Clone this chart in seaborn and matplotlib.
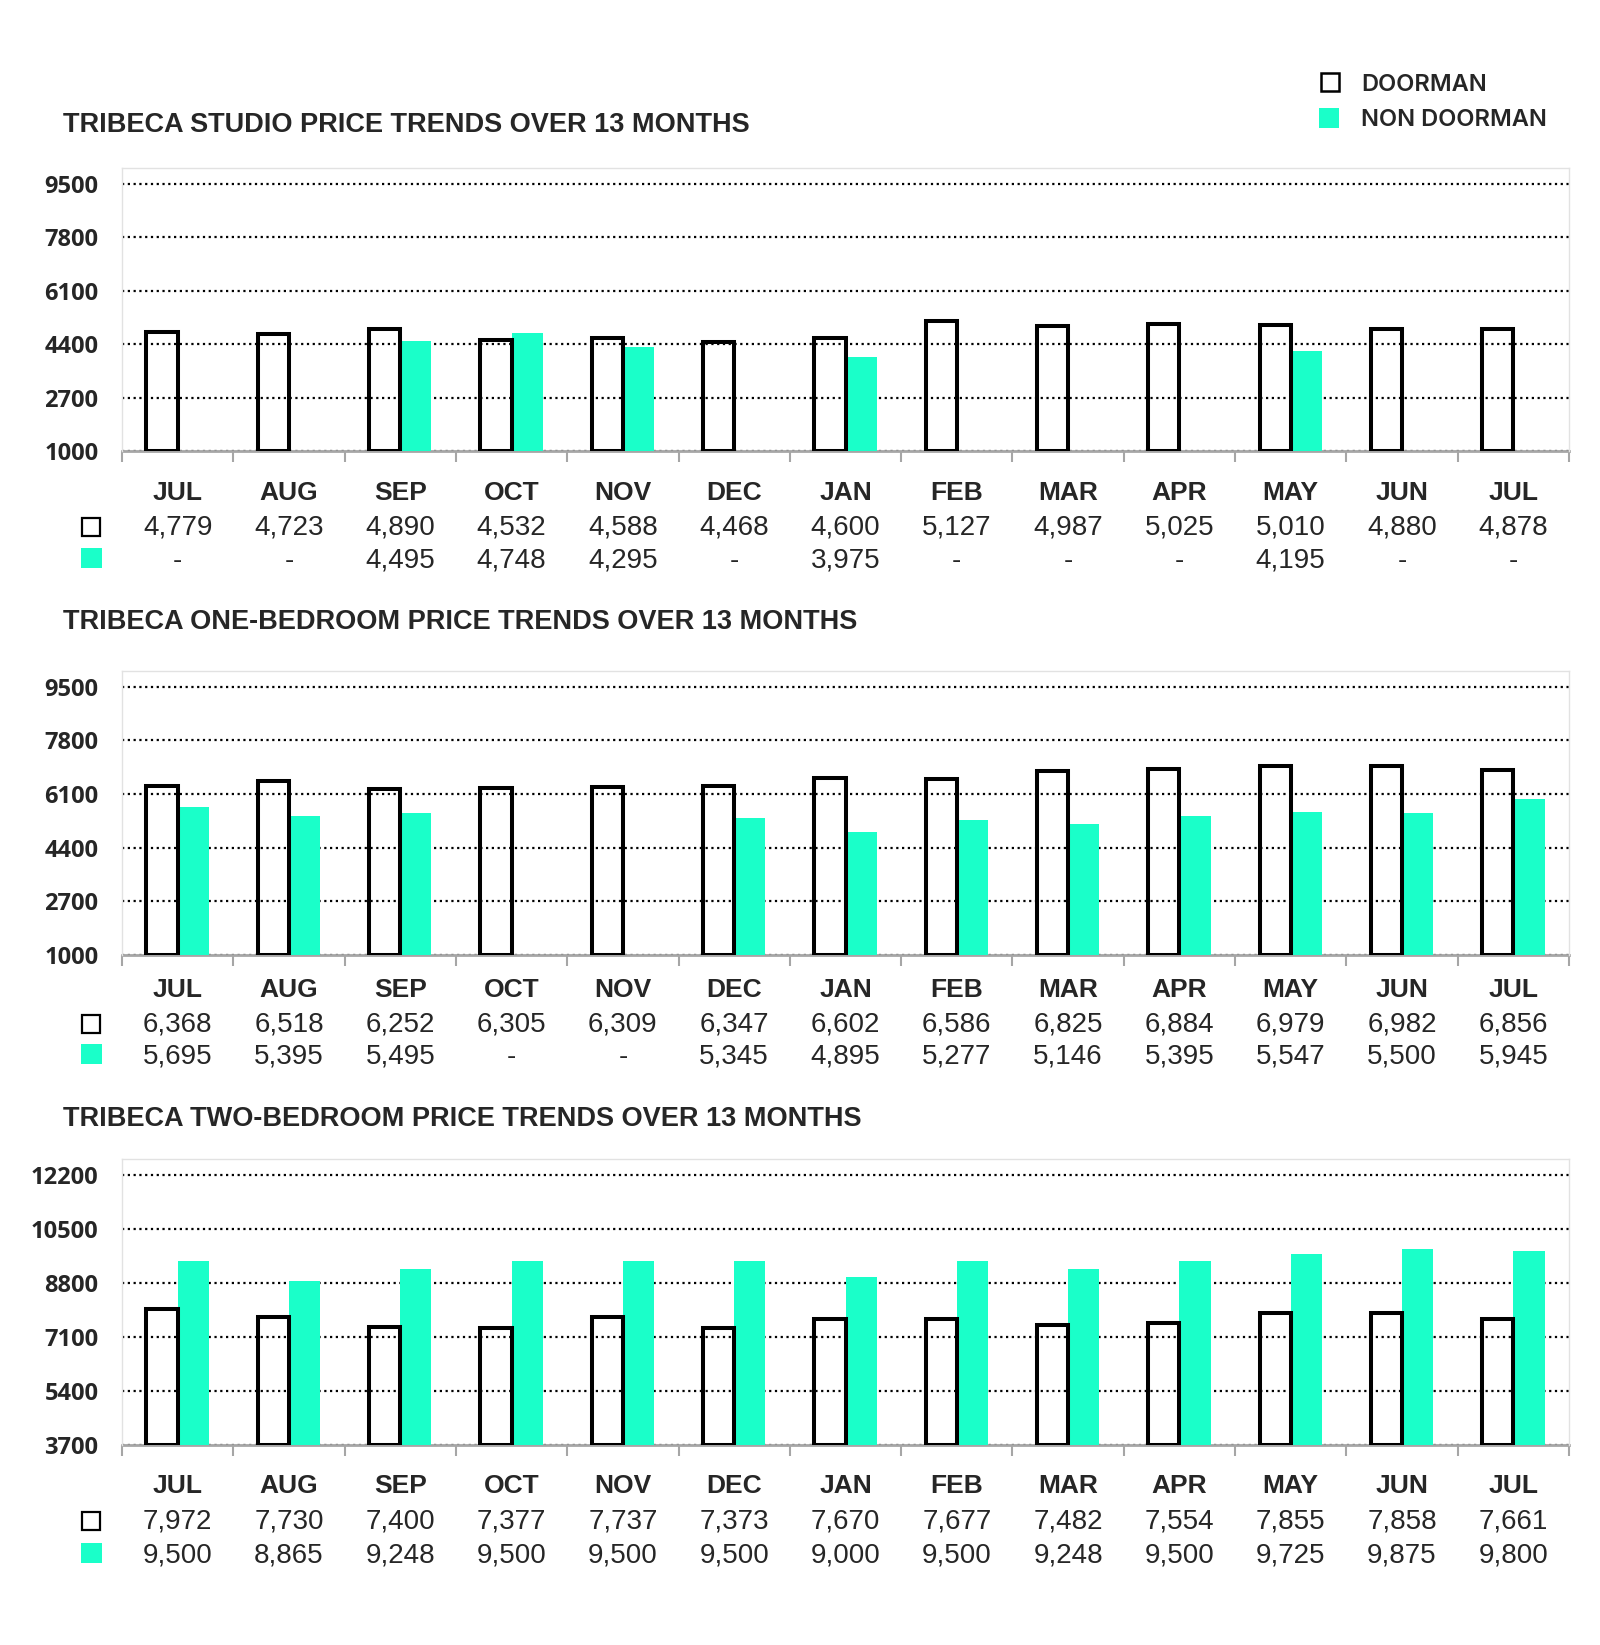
"""
Tribeca rental price trends: doorman vs non doorman, three unit types
"""

import numpy as np
import pandas as pd
import matplotlib
matplotlib.use('Agg')
import matplotlib.pyplot as plt
import seaborn as sns
from matplotlib.patches import Rectangle
from matplotlib.transforms import blended_transform_factory

# ---- data ----
months = ['JUL', 'AUG', 'SEP', 'OCT', 'NOV', 'DEC', 'JAN',
          'FEB', 'MAR', 'APR', 'MAY', 'JUN', 'JUL']

studio_doorman = [4779, 4723, 4890, 4532, 4588, 4468, 4600, 5127, 4987, 5025, 5010, 4880, 4878]
studio_non = [None, None, 4495, 4748, 4295, None, 3975, None, None, None, 4195, None, None]

onebed_doorman = [6368, 6518, 6252, 6305, 6309, 6347, 6602, 6586, 6825, 6884, 6979, 6982, 6856]
onebed_non = [5695, 5395, 5495, None, None, 5345, 4895, 5277, 5146, 5395, 5547, 5500, 5945]

twobed_doorman = [7972, 7730, 7400, 7377, 7737, 7373, 7670, 7677, 7482, 7554, 7855, 7858, 7661]
twobed_non = [9500, 8865, 9248, 9500, 9500, 9500, 9000, 9500, 9248, 9500, 9725, 9875, 9800]

titles = ['TRIBECA STUDIO PRICE TRENDS OVER 13 MONTHS',
          'TRIBECA ONE-BEDROOM PRICE TRENDS OVER 13 MONTHS',
          'TRIBECA TWO-BEDROOM PRICE TRENDS OVER 13 MONTHS']
y_ranges = [(1000, 10000), (1000, 10000), (3700, 12700)]
series_names = ['DOORMAN', 'NON DOORMAN']

CYAN = '#1affc9'
W, H = 1600, 1645

sns.set_style('white')
plt.rcParams['font.family'] = ['Liberation Sans', 'DejaVu Sans']

fig = plt.figure(figsize=(W / 100, H / 100), dpi=100)


def fy(px):
    return 1 - px / H


def baseline(center_px, size_pt, cap=0.716):
    # put caps visually centred on center_px
    return fy(center_px + cap * size_pt * 100 / 72 / 2)


# layout in pixels: title centre, plot top, plot bottom, table rows
layout = [
    dict(title_y=122, top=168, bottom=451, rows=(491, 525, 558)),
    dict(title_y=619, top=671, bottom=955, rows=(988, 1022, 1054)),
    dict(title_y=1116, top=1159, bottom=1445, rows=(1484, 1519, 1553)),
]
panel_data = [(studio_doorman, studio_non), (onebed_doorman, onebed_non),
              (twobed_doorman, twobed_non)]

for title, (door, non), (ymin, ymax), lay in zip(titles, panel_data, y_ranges, layout):
    ax = fig.add_axes([122 / W, fy(lay['bottom']), 1447 / W,
                       (lay['bottom'] - lay['top']) / H])

    df = pd.DataFrame({
        'slot': list(range(len(months))) * 2,
        'type': [series_names[0]] * len(door) + [series_names[1]] * len(non),
        'price': pd.to_numeric(pd.Series(door + non, dtype='float')),
    })
    sns.barplot(data=df, x='slot', y='price', hue='type', hue_order=series_names,
                palette={series_names[0]: 'white', series_names[1]: CYAN},
                width=0.56, saturation=1, errorbar=None, legend=False, ax=ax)

    # doorman bars hollow with thick black outline, non-doorman solid cyan
    for bar in ax.containers[0]:
        bar.set_facecolor('none')
        bar.set_edgecolor('black')
        bar.set_linewidth(2.9)
        bar.set_y(ymin)
        bar.set_height(bar.get_height() - ymin)
        bar.set_zorder(3)
    for bar in ax.containers[1]:
        bar.set_edgecolor('none')
        bar.set_linewidth(0)
        bar.set_zorder(2)

    ax.set_xlim(-0.5, len(months) - 0.5)
    ax.set_ylim(ymin, ymax)
    ticks = np.arange(ymin, ymax - 1, 1700)
    ax.set_yticks(ticks)
    ax.set_yticklabels([str(int(t)) for t in ticks], fontsize=17,
                       fontweight='bold', family=['Open Sans', 'DejaVu Sans'])
    ax.tick_params(axis='y', length=0, pad=17)
    ax.yaxis.grid(True, linestyle=(0, (1, 1.6)), color='black', linewidth=1.6)
    ax.set_axisbelow(True)

    ax.set_xticks(range(len(months)))
    ax.set_xticks(np.arange(-0.5, len(months)), minor=True)
    ax.tick_params(axis='x', which='major', length=0, labelbottom=False)
    ax.tick_params(axis='x', which='minor', length=8, width=1.5,
                   color='#a6a6a6', direction='out', bottom=True)
    ax.set_xlabel('')
    ax.set_ylabel('')

    for side in ['left', 'top', 'right']:
        ax.spines[side].set_color('#e2e2e2')
        ax.spines[side].set_linewidth(1)
    ax.spines['bottom'].set_color('#a6a6a6')
    ax.spines['bottom'].set_linewidth(2)
    ax.spines['bottom'].set_zorder(1)

    fig.text(63 / W, baseline(lay['title_y'], 19.5), title, ha='left', va='baseline',
             fontsize=19.5, fontweight='bold')

    # table under the bars
    trans = blended_transform_factory(ax.transData, fig.transFigure)
    r0, r1, r2 = lay['rows']
    for i, m in enumerate(months):
        ax.text(i, baseline(r0, 19), m, transform=trans, ha='center',
                va='baseline', fontsize=19, fontweight='bold')
        d = door[i]
        n = non[i]
        ax.text(i, baseline(r1, 20), f'{d:,}' if d is not None else '-',
                transform=trans, ha='center', va='baseline', fontsize=20)
        ax.text(i, baseline(r2, 20), f'{n:,}' if n is not None else '-',
                transform=trans, ha='center', va='baseline', fontsize=20)

    fig.add_artist(Rectangle((82 / W, fy(r1 + 11)), 18 / W, 18 / H,
                             transform=fig.transFigure, facecolor='white',
                             edgecolor='black', linewidth=1.6))
    fig.add_artist(Rectangle((81 / W, fy(r2 + 10)), 21 / W, 20 / H,
                             transform=fig.transFigure, facecolor=CYAN,
                             edgecolor='none'))

# legend top right
fig.add_artist(Rectangle((1321 / W, fy(91)), 18 / W, 18 / H, transform=fig.transFigure,
                         facecolor='white', edgecolor='black', linewidth=1.8))
fig.add_artist(Rectangle((1319 / W, fy(128)), 20 / W, 20 / H, transform=fig.transFigure,
                         facecolor=CYAN, edgecolor='none'))
for label, yc in zip(series_names, [82, 117]):
    fig.text(1361 / W, baseline(yc, 17, cap=0.727), label, ha='left', va='baseline',
             fontsize=17, fontweight='semibold', family=['Inter', 'DejaVu Sans'])

fig.savefig('out.png', dpi=100, facecolor='white')
